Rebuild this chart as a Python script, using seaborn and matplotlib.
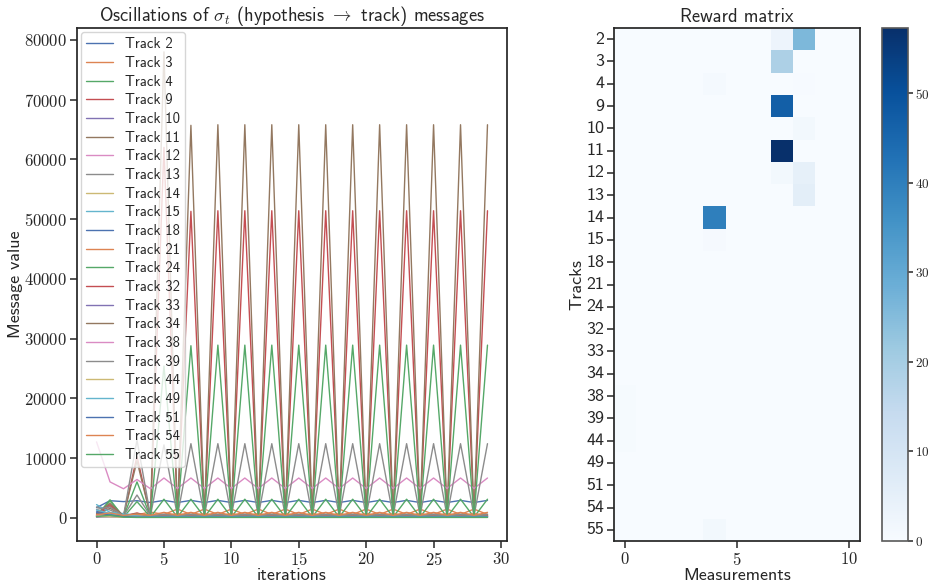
import matplotlib
matplotlib.use("Agg")
import matplotlib.pyplot as plt
import numpy as np
import pandas as pd
import seaborn as sns

# ---------------------------------------------------------------- data
iterations = list(range(30))
track_ids = [2, 3, 4, 9, 10, 11, 12, 13, 14, 15, 18, 21, 24,
             32, 33, 34, 38, 39, 44, 49, 51, 54, 55]

msg_t2 = [1700, 2850, 2700, 2850, 2550, 2900, 2550, 2900, 2550, 2900,
          2550, 2900, 2550, 2900, 2550, 2900, 2550, 2900, 2550, 2900,
          2550, 2900, 2550, 2900, 2550, 2900, 2550, 2900, 2550, 2900]
msg_t3 = [300, 500, 350, 500, 950, 550, 1450, 550, 1450, 550,
          1450, 550, 1450, 550, 1450, 550, 1450, 550, 1450, 550,
          1450, 550, 1450, 550, 1450, 550, 1450, 550, 1450, 550]
msg_t4 = [300, 3000, 100, 2700, 100, 3100, 100, 3100, 100, 3100,
          100, 3100, 100, 3100, 100, 3100, 100, 3100, 100, 3100,
          100, 3100, 100, 3100, 100, 3100, 100, 3100, 100, 3100]
msg_t9 = [300, 2000, 200, 10300, 200, 62000, 200, 51300, 150, 51400,
          150, 51400, 150, 51400, 150, 51400, 150, 51400, 150, 51400,
          150, 51400, 150, 51400, 150, 51400, 150, 51400, 150, 51400]
msg_t10 = [150, 400, 300, 400, 300, 350, 300, 350, 300, 350,
           300, 350, 300, 350, 300, 350, 300, 350, 300, 350,
           300, 350, 300, 350, 300, 350, 300, 350, 300, 350]
msg_t11 = [400, 1600, 300, 9500, 300, 78000, 250, 65700, 200, 65800,
           200, 65800, 200, 65800, 200, 65800, 200, 65800, 200, 65800,
           200, 65800, 200, 65800, 200, 65800, 200, 65800, 200, 65800]
msg_t12 = [12700, 6000, 4850, 6400, 4850, 6650, 4900, 6650, 4900, 6650,
           4900, 6650, 4900, 6650, 4900, 6650, 4900, 6650, 4900, 6650,
           4900, 6650, 4900, 6650, 4900, 6650, 4900, 6650, 4900, 6650]
msg_t13 = [1800, 1300, 300, 13000, 300, 12200, 300, 12400, 300, 12400,
           300, 12400, 300, 12400, 300, 12400, 300, 12400, 300, 12400,
           300, 12400, 300, 12400, 300, 12400, 300, 12400, 300, 12400]
msg_t14 = [400, 700, 300, 500, 300, 400, 300, 400, 300, 400,
           300, 400, 300, 400, 300, 400, 300, 400, 300, 400,
           300, 400, 300, 400, 300, 400, 300, 400, 300, 400]
msg_t15 = [2200, 900, 700, 400, 250, 250, 250, 250, 250, 250,
           250, 250, 250, 250, 250, 250, 250, 250, 250, 250,
           250, 250, 250, 250, 250, 250, 250, 250, 250, 250]
msg_t18 = [1100, 600, 300, 300, 200, 200, 200, 200, 200, 200,
           200, 200, 200, 200, 200, 200, 200, 200, 200, 200,
           200, 200, 200, 200, 200, 200, 200, 200, 200, 200]
msg_t21 = [200, 300, 200, 300, 500, 300, 700, 300, 700, 300,
           700, 300, 700, 300, 700, 300, 700, 300, 700, 300,
           700, 300, 700, 300, 700, 300, 700, 300, 700, 300]
msg_t24 = [300, 2800, 150, 6000, 150, 25400, 150, 28800, 150, 28900,
           150, 28900, 150, 28900, 150, 28900, 150, 28900, 150, 28900,
           150, 28900, 150, 28900, 150, 28900, 150, 28900, 150, 28900]
msg_t32 = [600, 2200, 300, 800, 200, 300, 200, 300, 200, 300,
           200, 300, 200, 300, 200, 300, 200, 300, 200, 300,
           200, 300, 200, 300, 200, 300, 200, 300, 200, 300]
msg_t33 = [100, 150, 100, 100, 100, 100, 100, 100, 100, 100,
           100, 100, 100, 100, 100, 100, 100, 100, 100, 100,
           100, 100, 100, 100, 100, 100, 100, 100, 100, 100]
msg_t34 = [700, 2400, 300, 700, 300, 500, 300, 500, 300, 500,
           300, 500, 300, 500, 300, 500, 300, 500, 300, 500,
           300, 500, 300, 500, 300, 500, 300, 500, 300, 500]
msg_t38 = [300, 200, 150, 200, 150, 200, 150, 200, 150, 200,
           150, 200, 150, 200, 150, 200, 150, 200, 150, 200,
           150, 200, 150, 200, 150, 200, 150, 200, 150, 200]
msg_t39 = [1400, 1800, 300, 3800, 300, 600, 300, 600, 300, 600,
           300, 600, 300, 600, 300, 600, 300, 600, 300, 600,
           300, 600, 300, 600, 300, 600, 300, 600, 300, 600]
msg_t44 = [200, 150, 100, 100, 100, 100, 100, 100, 100, 100,
           100, 100, 100, 100, 100, 100, 100, 100, 100, 100,
           100, 100, 100, 100, 100, 100, 100, 100, 100, 100]
msg_t49 = [1300, 700, 500, 300, 200, 200, 200, 200, 200, 200,
           200, 200, 200, 200, 200, 200, 200, 200, 200, 200,
           200, 200, 200, 200, 200, 200, 200, 200, 200, 200]
msg_t51 = [900, 400, 200, 100, 100, 100, 100, 100, 100, 100,
           100, 100, 100, 100, 100, 100, 100, 100, 100, 100,
           100, 100, 100, 100, 100, 100, 100, 100, 100, 100]
msg_t54 = [500, 800, 400, 600, 400, 900, 400, 900, 400, 900,
           400, 900, 400, 900, 400, 900, 400, 900, 400, 900,
           400, 900, 400, 900, 400, 900, 400, 900, 400, 900]
msg_t55 = [200, 400, 100, 50, 50, 50, 50, 50, 50, 50,
           50, 50, 50, 50, 50, 50, 50, 50, 50, 50,
           50, 50, 50, 50, 50, 50, 50, 50, 50, 50]

message_series = [msg_t2, msg_t3, msg_t4, msg_t9, msg_t10, msg_t11, msg_t12,
                  msg_t13, msg_t14, msg_t15, msg_t18, msg_t21, msg_t24,
                  msg_t32, msg_t33, msg_t34, msg_t38, msg_t39, msg_t44,
                  msg_t49, msg_t51, msg_t54, msg_t55]

x_ticks = [0, 5, 10, 15, 20, 25, 30]
y_ticks = [0, 10000, 20000, 30000, 40000, 50000, 60000, 70000, 80000]

# reward matrix: one row per track, one column per measurement (0..10)
measurements = list(range(11))
reward_rows = [
    [0, 0, 0, 0, 0, 0, 0, 3.0, 26.0, 0, 0],     # 2
    [0, 0, 0, 0, 0, 0, 0, 19.0, 0, 0, 0],       # 3
    [0, 0, 0, 0, 1.0, 0, 0, 0, 0.3, 0, 0],      # 4
    [0, 0, 0, 0, 0, 0, 0, 47.0, 0, 0, 0],       # 9
    [0, 0, 0, 0, 0, 0, 0, 0, 1.5, 0, 0],        # 10
    [0, 0, 0, 0, 0, 0, 0, 57.3, 0, 0, 0],       # 11
    [0, 0, 0, 0, 0, 0, 0, 1.5, 5.0, 0, 0],      # 12
    [0, 0, 0, 0, 0, 0, 0, 0, 6.0, 0, 0],        # 13
    [0, 0, 0, 0, 40.0, 0, 0, 0, 0, 0, 0],       # 14
    [0, 0, 0, 0, 0.8, 0, 0, 0, 0, 0, 0],        # 15
    [0, 0, 0, 0, 0, 0, 0, 0, 0, 0, 0],          # 18
    [0, 0, 0, 0, 0, 0, 0, 0, 0, 0, 0],          # 21
    [0, 0, 0, 0, 0, 0, 0, 0, 0, 0, 0],          # 24
    [0, 0, 0, 0, 0, 0, 0, 0, 0, 0, 0],          # 32
    [0, 0, 0, 0, 0, 0, 0, 0, 0, 0, 0],          # 33
    [0, 0, 0, 0, 0, 0, 0, 0, 0, 0, 0],          # 34
    [0.6, 0, 0, 0, 0, 0, 0, 0, 0, 0, 0],        # 38
    [0.5, 0, 0, 0, 0, 0, 0, 0, 0, 0, 0],        # 39
    [0.5, 0, 0, 0, 0, 0, 0, 0, 0, 0, 0],        # 44
    [0.2, 0, 0, 0, 0, 0, 0, 0, 0, 0, 0],        # 49
    [0.2, 0, 0, 0, 0, 0, 0, 0, 0, 0, 0],        # 51
    [0.2, 0, 0, 0, 0, 0, 0, 0, 0, 0, 0],        # 54
    [0.2, 0, 0, 0, 1.5, 0, 0, 0, 0, 0, 0],      # 55
]
meas_ticks = [0, 5, 10]
cbar_ticks = [0, 10, 20, 30, 40, 50]


def serif_num(v):
    """Numeric tick label typeset in Computer Modern roman."""
    return rf"$\mathrm{{{v}}}$"


# ---------------------------------------------------------------- style
sns.set_theme(style="ticks")
plt.rcParams["font.family"] = ["cmss10", "DejaVu Sans"]
plt.rcParams["mathtext.fontset"] = "cm"
plt.rcParams["axes.unicode_minus"] = False

fig = plt.figure(figsize=(9.3, 5.83), dpi=100)
ax1 = fig.add_axes([0.0828, 0.072, 0.4624, 0.880])
ax2 = fig.add_axes([0.6602, 0.072, 0.2645, 0.880])
cax = fig.add_axes([0.9484, 0.072, 0.028, 0.880])

# ---------------------------------------------------------------- messages
labels = [f"Track {t}" for t in track_ids]
long = pd.DataFrame({
    "iteration": np.tile(iterations, len(track_ids)),
    "value": np.concatenate([np.asarray(s, float) for s in message_series]),
    "track": np.repeat(labels, len(iterations)),
})
palette = sns.color_palette("deep", len(track_ids))
sns.lineplot(data=long, x="iteration", y="value", hue="track",
             hue_order=labels, palette=palette, linewidth=1.0, ax=ax1,
             legend=True)
handles, hlabels = ax1.get_legend_handles_labels()
ax1.legend(handles, hlabels, loc="upper left", fontsize=10.5, framealpha=0.8,
           borderaxespad=0.3, handlelength=1.85, labelspacing=0.32,
           borderpad=0.35)
ax1.set_title(r"Oscillations of $\sigma_t$ (hypothesis $\rightarrow$ track) messages",
              fontsize=13.3, pad=4)
ax1.set_xlabel("iterations", fontsize=13, labelpad=0)
ax1.set_ylabel("Message value", fontsize=13, labelpad=1)
ax1.set_xlim(-1.45, 30.45)
ax1.set_ylim(-3900, 82000)
ax1.tick_params(length=5, width=1.1, pad=2, labelsize=12)
ax1.set_xticks(x_ticks)
ax1.set_yticks(y_ticks)
ax1.set_xticklabels([serif_num(v) for v in x_ticks])
ax1.set_yticklabels([serif_num(v) for v in y_ticks])

# ---------------------------------------------------------------- rewards
reward = pd.DataFrame(reward_rows, index=[str(t) for t in track_ids],
                      columns=measurements)
sns.heatmap(reward, cmap="Blues", ax=ax2, cbar_ax=cax, vmin=0,
            cbar_kws={"ticks": cbar_ticks})
for sp in ax2.spines.values():
    sp.set_visible(True)
    sp.set_color(".15")
    sp.set_linewidth(1.25)
ax2.tick_params(axis="both", length=5, width=1.1, color=".15", pad=2)
ax2.tick_params(axis="x", labelsize=12)
ax2.tick_params(axis="y", labelsize=13)
ax2.set_xticks([m + 0.5 for m in meas_ticks])
ax2.set_xticklabels([serif_num(m) for m in meas_ticks], rotation=0)
ax2.set_yticks([i + 0.5 for i in range(len(track_ids))])
ax2.set_yticklabels([str(t) for t in track_ids], rotation=0)
ax2.set_title("Reward matrix", fontsize=13.3, pad=4)
ax2.set_xlabel("Measurements", fontsize=13, labelpad=0)
ax2.set_ylabel("Tracks", fontsize=13, labelpad=1)

cbar = ax2.collections[0].colorbar
cbar.outline.set_visible(True)
cbar.outline.set_linewidth(1.2)
cbar.outline.set_edgecolor(".35")
cax.tick_params(length=3.5, width=1.1, pad=1.5, labelsize=9.5)
cbar.set_ticks(cbar_ticks)
cbar.set_ticklabels([serif_num(v) for v in cbar_ticks])

fig.savefig("out.png", dpi=100)
